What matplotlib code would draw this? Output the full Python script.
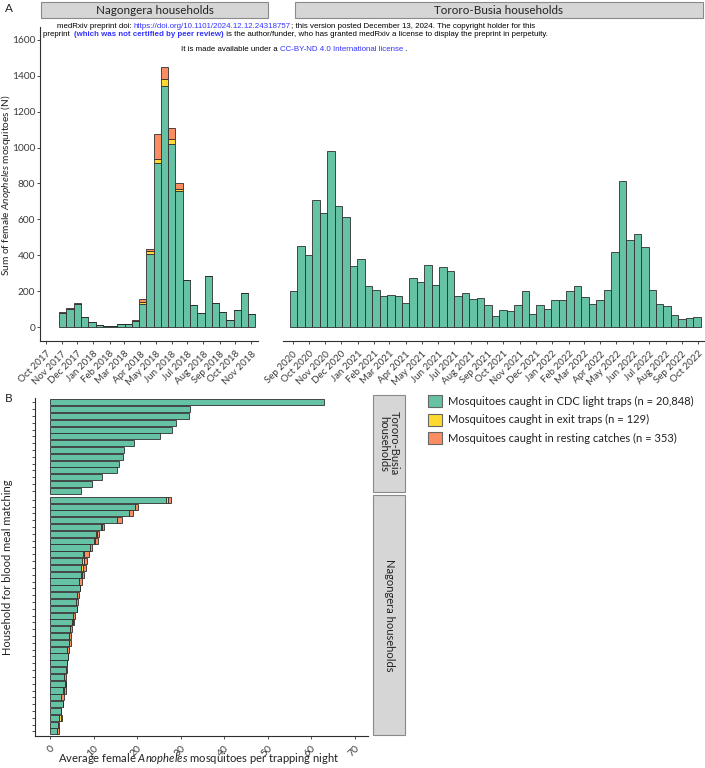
import matplotlib
matplotlib.use('Agg')
import matplotlib.pyplot as plt
from matplotlib.patches import Patch, Rectangle
import pandas as pd

plt.rcParams['font.family'] = ['Lato', 'DejaVu Sans']
plt.rcParams['mathtext.fontset'] = 'custom'
plt.rcParams['mathtext.it'] = 'Lato:italic'
plt.rcParams['mathtext.rm'] = 'Lato'

GREEN = '#66C2A5'
YELLOW = '#FFD92F'
ORANGE = '#FC8D62'
EDGE = '#2e2e2e'
TXT = '#3a3a3a'

# ---- panel A data (biweekly sums) ----
nag_light = [80, 100, 129, 55, 26, 9, 7, 4, 15, 15, 32, 129, 409, 913, 1343, 1022, 757,
             263, 121, 77, 284, 131, 82, 39, 95, 189, 71]
nag_exit = [0, 0, 0, 0, 0, 0, 0, 0, 0, 0, 0, 9, 13, 26, 40, 28, 11,
            0, 0, 0, 0, 0, 0, 0, 0, 0, 0]
nag_rest = [3, 5, 3, 0, 0, 0, 0, 0, 0, 0, 5, 19, 13, 139, 67, 61, 34,
            0, 0, 0, 0, 0, 0, 0, 0, 0, 0]
tor_light = [198, 452, 404, 707, 637, 983, 673, 615, 342, 379, 226, 206, 172, 181, 172,
             135, 271, 250, 348, 236, 335, 314, 172, 189, 155, 161, 121, 60, 93, 88,
             120, 200, 73, 123, 101, 150, 150, 202, 230, 170, 127, 150, 206, 417, 815,
             486, 516, 447, 206, 129, 116, 67, 45, 52, 54]

# ---- panel B data (average per trapping night, sorted) ----
tor_hh = [62.9, 32.2, 31.9, 29.0, 27.9, 25.2, 19.2, 16.9, 16.8, 15.9, 15.4, 12.0, 9.7, 7.1]
nag_hh_light = [26.6, 19.5, 18.0, 15.4, 11.7, 10.5, 10.1, 9.2, 7.5, 7.4, 7.1, 7.1, 6.7, 6.8,
                6.1, 5.9, 6.2, 5.2, 4.9, 4.5, 4.4, 4.2, 3.8, 4.0, 3.9, 3.5, 3.1, 3.4, 2.9,
                2.4, 2.9, 2.5, 2.1, 1.85, 1.6]
nag_hh_exit = [0.45, 0, 0, 0, 0.1, 0.3, 0.1, 0, 0.35, 0.3, 0.35, 0.1, 0, 0, 0, 0, 0, 0,
               0.3, 0, 0, 0.2, 0, 0, 0, 0, 0, 0.1, 0.2, 0, 0, 0, 0.4, 0, 0]
nag_hh_rest = [0.8, 0.75, 1.1, 1.0, 0.5, 0.4, 0.8, 0.45, 1.1, 0.8, 0.8, 0.5, 0.6, 0, 0.45,
               0.45, 0, 0.55, 0.3, 0.45, 0.4, 0.3, 0.5, 0, 0, 0.4, 0.5, 0.1, 0.4, 0.7,
               0.1, 0, 0.1, 0.15, 0.45]

legend_labels = ['Mosquitoes caught in CDC light traps (n = 20,848)',
                 'Mosquitoes caught in exit traps (n = 129)',
                 'Mosquitoes caught in resting catches (n = 353)']

W, H = 705, 768
fig = plt.figure(figsize=(W / 100, H / 100), dpi=100)


def px_axes(x0, y0, x1, y1):
    return fig.add_axes([x0 / W, 1 - y1 / H, (x1 - x0) / W, (y1 - y0) / H])


def style(ax):
    ax.set_facecolor('none')
    for s in ['top', 'right']:
        ax.spines[s].set_visible(False)
    for s in ['left', 'bottom']:
        ax.spines[s].set_color(EDGE)
        ax.spines[s].set_linewidth(0.8)
    ax.tick_params(colors=EDGE, labelcolor=TXT, length=2.5, width=0.6)


# ---------------- Panel A ----------------
nag_dates = pd.date_range('2017-10-27', periods=len(nag_light), freq='14D').to_pydatetime()
tor_dates = pd.date_range('2020-08-27', periods=len(tor_light), freq='14D').to_pydatetime()
nag_bot2 = [a + b for a, b in zip(nag_light, nag_exit)]

a1 = px_axes(40, 27, 258, 341)
style(a1)
kw = dict(width=14, align='edge', edgecolor=EDGE, linewidth=0.6)
a1.bar(nag_dates, nag_light, color=GREEN, **kw)
a1.bar(nag_dates, nag_exit, bottom=nag_light, color=YELLOW, **kw)
a1.bar(nag_dates, nag_rest, bottom=nag_bot2, color=ORANGE, **kw)
a1.set_ylim(-78, 1672)
a1.set_yticks(range(0, 1601, 200))
a1.set_xlim(pd.Timestamp('2017-09-20'), pd.Timestamp('2018-11-14'))
m1 = pd.date_range('2017-10-01', '2018-11-01', freq='MS')
a1.set_xticks(m1.to_pydatetime())
a1.set_xticklabels([d.strftime('%b %Y') for d in m1], rotation=45, ha='right',
                   rotation_mode='anchor', fontsize=7)
a1.tick_params(axis='y', labelsize=7.3, pad=1)

a2 = px_axes(283, 27, 704, 341)
style(a2)
a2.spines['left'].set_visible(False)
a2.bar(tor_dates, tor_light, color=GREEN, **kw)
a2.set_ylim(-78, 1672)
a2.set_yticks([])
a2.set_xlim(pd.Timestamp('2020-08-14'), pd.Timestamp('2022-10-12'))
m2 = pd.date_range('2020-09-01', '2022-10-01', freq='MS')
a2.set_xticks(m2.to_pydatetime())
a2.set_xticklabels([d.strftime('%b %Y') for d in m2], rotation=45, ha='right',
                   rotation_mode='anchor', fontsize=7)

# ---------------- Panel B ----------------
b1 = px_axes(35, 398.3, 368, 494.9)
style(b1)
b1.spines['bottom'].set_visible(False)
hk = dict(height=0.9, edgecolor=EDGE, linewidth=0.6)
b1.barh(range(len(tor_hh)), tor_hh, color=GREEN, **hk)
b1.set_ylim(len(tor_hh) - 0.4, -0.6)
b1.set_xlim(-3.52, 73.1)
b1.set_yticks(range(len(tor_hh)))
b1.set_yticklabels([])
b1.set_xticks([])

b2 = px_axes(35, 495.7, 368, 735.5)
style(b2)
yy = range(len(nag_hh_light))
left2 = [a + b for a, b in zip(nag_hh_light, nag_hh_exit)]
b2.barh(yy, nag_hh_light, color=GREEN, **hk)
b2.barh(yy, nag_hh_exit, left=nag_hh_light, color=YELLOW, **hk)
b2.barh(yy, nag_hh_rest, left=left2, color=ORANGE, **hk)
b2.set_ylim(len(nag_hh_light) - 0.4, -0.6)
b2.set_xlim(-3.52, 73.1)
b2.set_yticks(list(yy))
b2.set_yticklabels([])
b2.set_xticks(range(0, 71, 10))
b2.set_xticklabels([str(v) for v in range(0, 71, 10)], rotation=45, ha='right',
                   rotation_mode='anchor', fontsize=7.5)

# legend
handles = [Patch(facecolor=c, edgecolor='#666666', linewidth=0.8) for c in [GREEN, YELLOW, ORANGE]]
fig.legend(handles, legend_labels, loc='upper left', bbox_to_anchor=(428 / W, 1 - 395 / H),
           frameon=False, fontsize=8, handlelength=1.26, handleheight=1.26,
           handletextpad=0.55, labelspacing=0.62, borderpad=0, borderaxespad=0,
           labelcolor='#222222')

# overlay for labels, strips and the preprint stamp (drawn on top)
top = fig.add_axes([0, 0, 1, 1])
top.set_xlim(0, W)
top.set_ylim(H, 0)
top.axis('off')

for (x0, x1, lab) in [(41, 268, 'Nagongera households'), (295, 703, 'Tororo-Busia households')]:
    top.add_patch(Rectangle((x0, 2), x1 - x0, 15.5, facecolor='#d6d6d6', edgecolor='#8a8a8a', lw=0.8))
    top.text((x0 + x1) / 2, 10, lab, ha='center', va='center', fontsize=8.4, color='#222222')

for (y0, y1, lab) in [(395, 492, 'Tororo-Busia\nhouseholds'), (495, 735, 'Nagongera households')]:
    top.add_patch(Rectangle((372.5, y0), 32.5, y1 - y0, facecolor='#d6d6d6', edgecolor='#8a8a8a', lw=0.8))
    top.text(389, (y0 + y1) / 2, lab, rotation=-90, ha='center', va='center', fontsize=8,
             color='#222222', linespacing=0.95)

top.text(9, 9, 'A', ha='center', va='center', fontsize=8.5, color='#222222')
top.text(9, 399, 'B', ha='center', va='center', fontsize=8.5, color='#222222')
top.text(6.1, 185, 'Sum of female $\\it{Anopheles}$ mosquitoes (N)', rotation=90, ha='center',
         va='center', fontsize=7.3, color='#222222')
top.text(8, 567, 'Household for blood meal matching', rotation=90, ha='center', va='center',
         fontsize=8, color='#222222')
top.text(199, 758, 'Average female $\\it{Anopheles}$ mosquitoes per trapping night', ha='center',
         va='center', fontsize=8.1, color='#222222')

LINK = '#3333ff'


def chain(x, y, parts):
    prev = None
    for s, color, weight in parts:
        if prev is None:
            prev = top.text(x, y, s, color=color, fontweight=weight, fontsize=5.65,
                            family='Liberation Sans', ha='left', va='bottom')
        else:
            prev = top.annotate(s, xy=(1, 0), xycoords=prev, color=color, fontweight=weight,
                                fontsize=5.65, family='Liberation Sans', ha='left', va='bottom')


chain(57, 30, [('medRxiv preprint doi: ', 'black', 'normal'),
               ('https://doi.org/10.1101/2024.12.12.24318757', LINK, 'normal'),
               ('; this version posted December 13, 2024. The copyright holder for this',
                'black', 'normal')])
chain(43, 38.5, [('preprint  ', 'black', 'normal'),
                 ('(which was not certified by peer review)', LINK, 'bold'),
                 (' is the author/funder, who has granted medRxiv a license to display the preprint in perpetuity.',
                  'black', 'normal')])
chain(181, 53, [('It is made available under a ', 'black', 'normal'),
                ('CC-BY-ND 4.0 International license', LINK, 'normal'),
                (' .', 'black', 'normal')])

fig.savefig('out.png', dpi=100)
